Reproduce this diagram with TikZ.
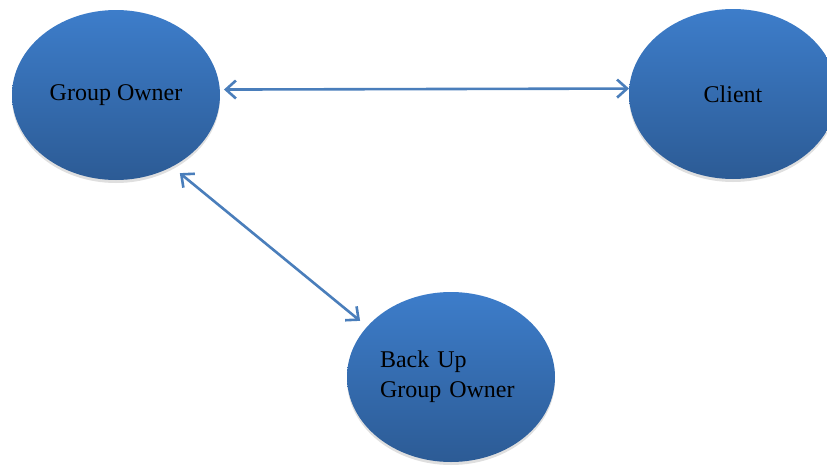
\documentclass[tikz,border=0pt]{standalone}
\usepackage{fontspec}
\setmainfont{Liberation Serif}
\usetikzlibrary{shapes.geometric,arrows.meta,shadows}

\definecolor{nodetop}{HTML}{3D7DCA}
\definecolor{nodebottom}{HTML}{2C5B95}
\definecolor{linkblue}{HTML}{4A7EBB}

\begin{document}
\begin{tikzpicture}[x=1pt,y=-1pt,
    role/.style={ellipse, minimum width=208pt, minimum height=170pt, inner sep=0pt,
      top color=nodetop, bottom color=nodebottom, draw=none,
      drop shadow={shadow xshift=0pt, shadow yshift=-3pt, opacity=0.25},
      font=\fontsize{24}{30}\selectfont},
    link/.style={draw=linkblue, line width=2.6pt,
      {Straight Barb[length=10pt,width=18pt]}-{Straight Barb[length=10pt,width=18pt]}}]
    \useasboundingbox (0,0) rectangle (827,466);

    % Define the nodes
    \node[role] (go) at (116,95) {Group Owner};
    \node[role] (cl) at (733,94) {Client};
    \node[role, align=left, text width=142pt] (bu) at (451,377) {Back Up\\Group Owner};

    % Draw the links
    \draw[link, shorten <=4pt] (go.3) -- (cl.177);
    \draw[link, shorten <=10pt, shorten >=9pt] (go.-52) -- (bu.149);

\end{tikzpicture}
\end{document}
